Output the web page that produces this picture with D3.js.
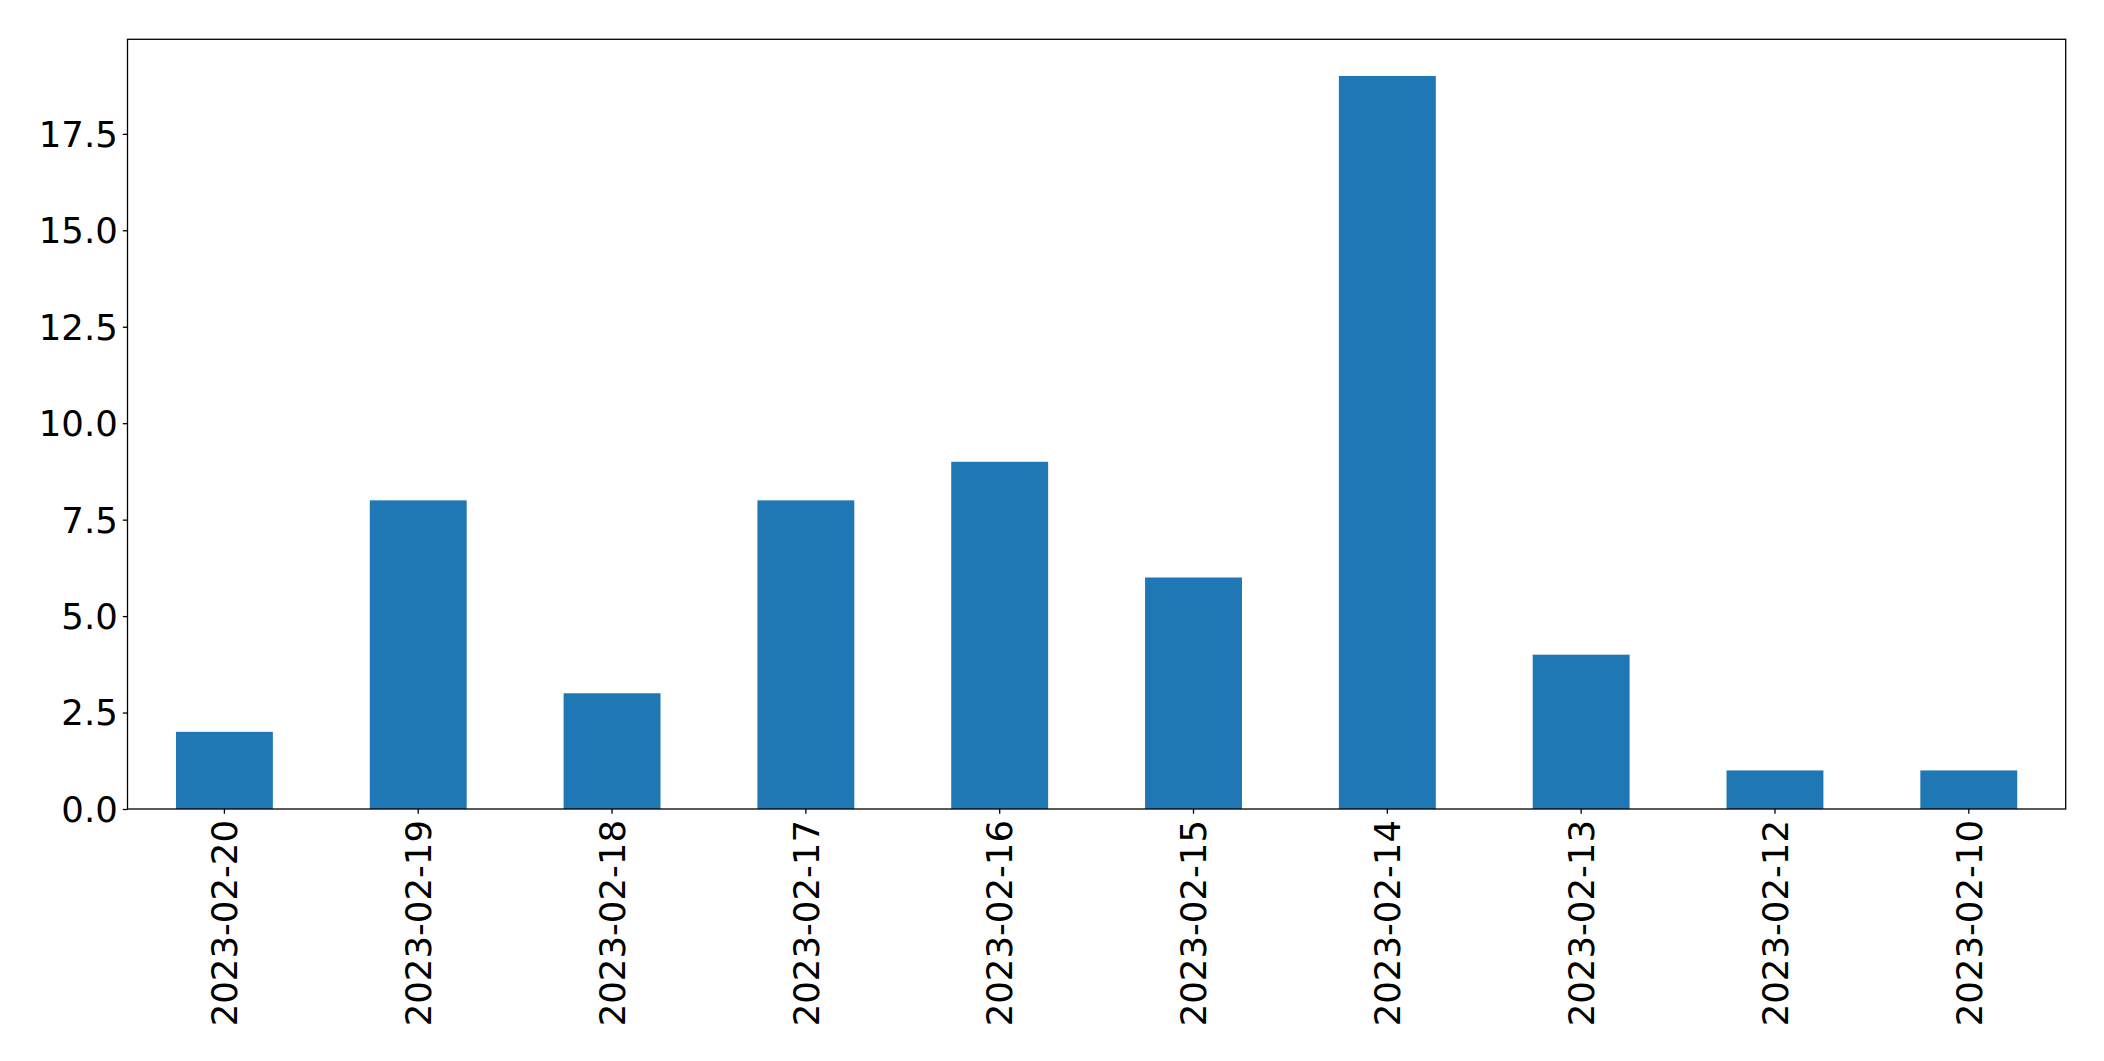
<!DOCTYPE html>
<html>
<head>
<meta charset="utf-8">
<script src="https://cdn.jsdelivr.net/npm/d3@7"></script>
<style>
  html, body { margin: 0; padding: 0; background: #fff; }
  svg { display: block; }
  text { font-family: "DejaVu Sans", sans-serif; fill: #000; }
</style>
</head>
<body>
<svg id="chart" width="2104" height="1061"></svg>
<script>
const categories = ["2023-02-20","2023-02-19","2023-02-18","2023-02-17","2023-02-16","2023-02-15","2023-02-14","2023-02-13","2023-02-12","2023-02-10"];
const values = [2, 8, 3, 8, 9, 6, 19, 4, 1, 1];
const yTicks = [0, 2.5, 5, 7.5, 10, 12.5, 15, 17.5];

const W = 2104, H = 1061;
const m = { left: 127.5, top: 39.3, right: 2104 - 2065.7, bottom: 1061 - 809 };
const iw = W - m.left - m.right, ih = H - m.top - m.bottom;

const svg = d3.select("#chart");
const g = svg.append("g").attr("transform", `translate(${m.left},${m.top})`);

const x = d3.scaleBand().domain(categories).range([0, iw]).paddingInner(0.5).paddingOuter(0.25);
const y = d3.scaleLinear().domain([0, d3.max(values) * 1.05]).range([ih, 0]);

g.selectAll("rect.bar").data(values).join("rect")
  .attr("class", "bar")
  .attr("x", (d, i) => x(categories[i]))
  .attr("y", d => y(d))
  .attr("width", x.bandwidth())
  .attr("height", d => y(0) - y(d))
  .attr("fill", "#1f77b4");

const fs = "35.5px";
const yAxis = g.append("g")
  .call(d3.axisLeft(y).tickValues(yTicks).tickFormat(d3.format(".1f")).tickSize(4.7).tickPadding(5));
yAxis.select(".domain").remove();
yAxis.selectAll("line").attr("stroke", "#000").attr("stroke-width", 1.3);
yAxis.selectAll("text").style("font-size", fs).attr("dy", "0.35em");

const xAxis = g.append("g").attr("transform", `translate(0,${ih})`)
  .call(d3.axisBottom(x).tickSize(4.7).tickPadding(5));
xAxis.select(".domain").remove();
xAxis.selectAll("line").attr("stroke", "#000").attr("stroke-width", 1.3);
xAxis.selectAll("text")
  .style("font-size", fs)
  .attr("text-anchor", "end")
  .attr("transform", "rotate(-90)")
  .attr("x", -11)
  .attr("y", 0)
  .attr("dy", "0.36em");

g.append("rect")
  .attr("x", 0).attr("y", 0).attr("width", iw).attr("height", ih)
  .attr("fill", "none").attr("stroke", "#000").attr("stroke-width", 1.3);
</script>
</body>
</html>
